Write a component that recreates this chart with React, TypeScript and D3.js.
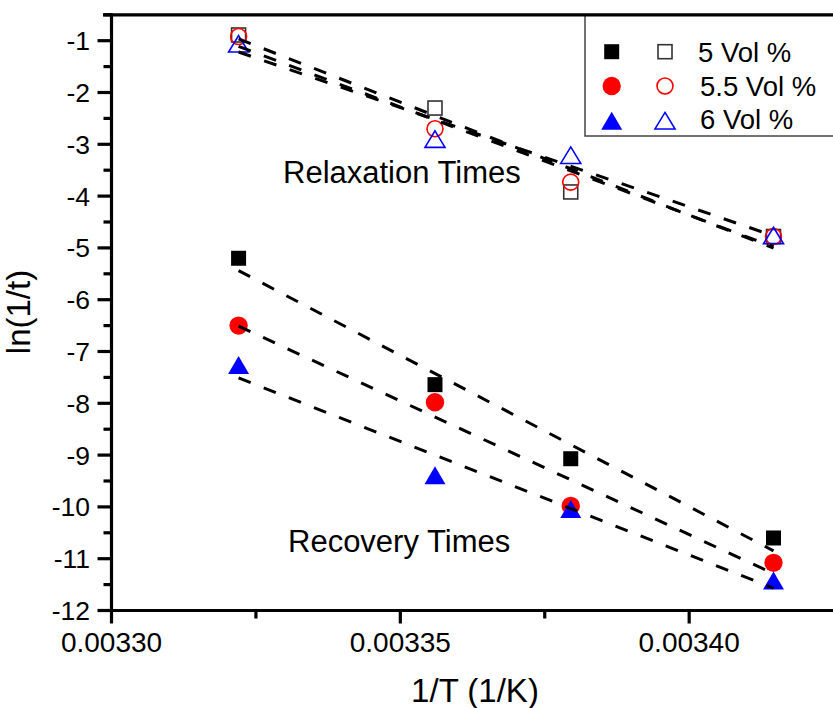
import React from "react";
import * as d3 from "d3";

// ---- data ----
const invT = [0.003322, 0.003356, 0.0033795, 0.0034146];
const recovery5 = [-5.2, -7.64, -9.07, -10.6];
const recovery55 = [-6.5, -7.98, -9.98, -11.08];
const recovery6 = [-7.26, -9.39, -10.04, -11.42];
const relax5 = [-0.89, -2.3, -3.92, -4.78];
const relax55 = [-0.92, -2.7, -3.73, -4.78];
const relax6 = [-1.06, -2.9, -3.21, -4.76];

const seriesLabels = ["5 Vol %", "5.5 Vol %", "6 Vol %"];
const seriesColors = ["#000000", "#ff0000", "#0000ff"];
const seriesShapes = ["square", "circle", "triangle"];

const xTickValues = [0.0033, 0.00335, 0.0034];
const xMinorValues = [0.003325, 0.003375];
const yTickValues = [-1, -2, -3, -4, -5, -6, -7, -8, -9, -10, -11, -12];
const yMinorValues = [-0.5, -1.5, -2.5, -3.5, -4.5, -5.5, -6.5, -7.5, -8.5, -9.5, -10.5, -11.5];

const W = 833;
const H = 708;
const FONT = "'Liberation Sans', Arial, Helvetica, sans-serif";

const x = d3.scaleLinear().domain([0.0033, 0.0034249]).range([111.5, 833]);
const y = d3.scaleLinear().domain([-12, -0.5]).range([610.5, 14.8]);

function fit(xs: number[], ys: number[]) {
  const mx = d3.mean(xs)!;
  const my = d3.mean(ys)!;
  let sxy = 0, sxx = 0;
  xs.forEach((xv, i) => {
    sxy += (xv - mx) * (ys[i] - my);
    sxx += (xv - mx) * (xv - mx);
  });
  const b = sxy / sxx;
  const a = my - b * mx;
  const x0 = d3.min(xs)!;
  const x1 = d3.max(xs)!;
  return [
    [x0, a + b * x0],
    [x1, a + b * x1],
  ] as [number, number][];
}

function Marker({ shape, cx, cy, color, filled }: { shape: string; cx: number; cy: number; color: string; filled: boolean }) {
  const sw = 1.6;
  if (shape === "square") {
    const s = filled ? 15 : 14;
    return (
      <rect x={cx - s / 2} y={cy - s / 2} width={s} height={s}
        fill={filled ? color : "none"} stroke={filled ? "none" : "#333"} strokeWidth={sw} />
    );
  }
  if (shape === "circle") {
    const r = filled ? 9.2 : 8;
    return <circle cx={cx} cy={cy} r={r} fill={filled ? color : "none"} stroke={filled ? "none" : color} strokeWidth={sw} />;
  }
  const w = filled ? 21 : 20;
  const h = filled ? 18 : 16.5;
  const d = `M${cx},${cy - h / 2}L${cx + w / 2},${cy + h / 2}L${cx - w / 2},${cy + h / 2}Z`;
  return <path d={d} fill={filled ? color : "none"} stroke={filled ? "none" : color} strokeWidth={sw} strokeLinejoin="miter" />;
}

export default function App() {
  const recovery = [recovery5, recovery55, recovery6];
  const relax = [relax5, relax55, relax6];
  const line = d3.line<[number, number]>().x((d) => x(d[0])).y((d) => y(d[1]));
  const fmt = d3.format(".5f");

  return (
    <svg width={W} height={H} style={{ position: "absolute", left: 0, top: 0, display: "block", background: "#fff" }}
      fontFamily={FONT}>
      <defs>
        <clipPath id="plot">
          <rect x={111.5} y={14} width={W - 111.5} height={597} />
        </clipPath>
      </defs>
      <rect x={0} y={0} width={W} height={H} fill="#fff" />

      <g clipPath="url(#plot)">
        {relax.map((vals, si) =>
          vals.map((v, i) => (
            <Marker key={`o${si}-${i}`} shape={seriesShapes[si]} cx={x(invT[i])} cy={y(v)} color={seriesColors[si]} filled={false} />
          ))
        )}
        {recovery.map((vals, si) =>
          vals.map((v, i) => (
            <Marker key={`f${si}-${i}`} shape={seriesShapes[si]} cx={x(invT[i])} cy={y(v)} color={seriesColors[si]} filled={true} />
          ))
        )}
        {[...relax, ...recovery].map((vals, k) => (
          <path key={`fit${k}`} d={line(fit(invT, vals))!} fill="none" stroke="#000" strokeWidth={3} strokeDasharray="13 14" />
        ))}
      </g>

      {/* legend */}
      <rect x={585} y={15} width={260} height={121} fill="#fff" stroke="#444" strokeWidth={1.5} />
      {seriesLabels.map((lab, i) => {
        const cy = [51.7, 86, 120.7][i];
        const base = [61.7, 95.5, 129][i];
        return (
          <g key={lab}>
            <Marker shape={seriesShapes[i]} cx={611.7} cy={cy} color={seriesColors[i]} filled={true} />
            <Marker shape={seriesShapes[i]} cx={665} cy={cy} color={seriesColors[i]} filled={false} />
            <text x={i === 0 ? 698 : 700} y={base} fontSize={27.5} fill="#000">{lab}</text>
          </g>
        );
      })}

      {/* axes */}
      <line x1={103} x2={W} y1={y(-0.5)} y2={y(-0.5)} stroke="#000" strokeWidth={3.2} />
      <line x1={x(0.0033)} x2={x(0.0033)} y1={y(-0.5) - 1.5} y2={y(-12) + 1.5} stroke="#000" strokeWidth={3.2} />
      <line x1={x(0.0033) - 1.5} x2={W} y1={y(-12)} y2={y(-12)} stroke="#000" strokeWidth={3.2} />

      {yTickValues.map((v) => (
        <g key={`yt${v}`}>
          <line x1={x(0.0033) - 14} x2={x(0.0033)} y1={y(v)} y2={y(v)} stroke="#000" strokeWidth={3.2} />
          <text x={90} y={y(v)} dy="0.36em" textAnchor="end" fontSize={26.5} fill="#000">{v}</text>
        </g>
      ))}
      {yMinorValues.map((v) => (
        <line key={`ym${v}`} x1={x(0.0033) - 8} x2={x(0.0033)} y1={y(v)} y2={y(v)} stroke="#000" strokeWidth={3.2} />
      ))}
      {xTickValues.map((v) => (
        <g key={`xt${v}`}>
          <line x1={x(v)} x2={x(v)} y1={y(-12)} y2={y(-12) + 13} stroke="#000" strokeWidth={3.2} />
          <text x={x(v)} y={652} textAnchor="middle" fontSize={28} fill="#000">{fmt(v)}</text>
        </g>
      ))}
      {xMinorValues.map((v) => (
        <line key={`xm${v}`} x1={x(v)} x2={x(v)} y1={y(-12)} y2={y(-12) + 8} stroke="#000" strokeWidth={3.2} />
      ))}

      {/* titles & annotations */}
      <text x={475} y={702} textAnchor="middle" fontSize={33} fill="#000">1/T (1/K)</text>
      <text transform="translate(30,312) rotate(-90)" textAnchor="middle" fontSize={33} fill="#000">ln(1/t)</text>
      <text x={283} y={183} fontSize={31} fill="#000">Relaxation Times</text>
      <text x={288} y={552} fontSize={31} fill="#000">Recovery Times</text>
    </svg>
  );
}
